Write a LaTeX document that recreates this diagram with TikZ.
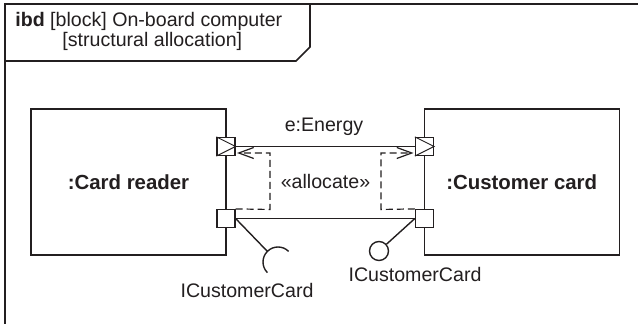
\documentclass[tikz,border=0pt]{standalone}
\usepackage{fontspec}
\setmainfont{Liberation Sans}
\usetikzlibrary{arrows.meta}
\definecolor{ink}{RGB}{35,31,32}
\begin{document}
\begin{tikzpicture}[x=0.5pt,y=-0.5pt,
  every node/.style={font=\fontsize{9.8}{10}\selectfont, text=ink},
  blockbox/.style={draw=ink, line width=0.7pt, minimum width=97.5pt, minimum height=73pt, inner sep=0pt, font=\fontsize{10.2}{12}\selectfont\bfseries},
  portbox/.style={draw=ink, fill=white, line width=0.6pt, minimum size=9pt, inner sep=0pt},
  wire/.style={draw=ink, line width=0.7pt},
  alloc/.style={draw=ink, line width=0.6pt, dash pattern=on 3.5pt off 2pt},
  lbl/.style={anchor=base, inner sep=0pt}]
\useasboundingbox (0,0) rectangle (638,324);
\fill[white] (0,0) rectangle (638,324);
% frame
\draw[ink, line width=1pt] (5,324) -- (5,4) -- (638,4);
\draw[ink, line width=0.8pt] (5,61) -- (296,61) -- (310,47) -- (310,4);
\node[anchor=base west, inner sep=0pt] (h1) at (15,27) {\textbf{ibd} [block] On-board computer};
\node[anchor=base west, inner sep=0pt] (h2) at (62,47) {[structural allocation]};
% blocks
\node[blockbox] (cr) at (128.5,182) {:Card reader};
\node[blockbox] (cc) at (521.75,182) {:Customer card};
% ports
\node[portbox] (p1) at (226,146.5) {};
\node[portbox] (p2) at (226,218.5) {};
\node[portbox] (p3) at (424.5,146.5) {};
\node[portbox] (p4) at (424.5,218.5) {};
\draw[ink, line width=0.5pt] (p1.north west) -- (p1.east) -- (p1.south west);
\draw[ink, line width=0.5pt] (p3.north west) -- (p3.east) -- (p3.south west);
% connectors
\draw[wire] (p1.east) -- (p3.west);
\node[lbl] (en) at (324,132) {e:Energy};
\draw[wire] (p2.east) -- (p4.west);
% allocate
\coordinate (a1) at (270,209.5);
\coordinate (a2) at (270,153);
\coordinate (a3) at (237,153);
\coordinate (b1) at (381,209.5);
\coordinate (b2) at (381,153);
\coordinate (b3) at (413.5,153);
\draw[alloc, -{Straight Barb[length=7.5pt, width=5.5pt]}] (p2.north east) -- (a1) -- (a2) -- (a3);
\draw[alloc, -{Straight Barb[length=7.5pt, width=5.5pt]}] (p4.north west) -- (b1) -- (b2) -- (b3);
\node[lbl] (al) at (325.5,189) {«allocate»};
% interfaces
\coordinate (sk) at (278,262);
\coordinate (skj) at (267.4,251.4);
\draw[wire] (p2.east) -- (skj);
\draw[wire] (sk) ++(135:15) arc[start angle=135, end angle=315, radius=15];
\node[draw=ink, line width=0.7pt, circle, minimum size=9.5pt, inner sep=0pt] (ball) at (379,251) {};
\draw[wire] (p4.west) -- (ball);
\node[lbl] (ic1) at (247,298) {ICustomerCard};
\node[lbl] (ic2) at (415,282) {ICustomerCard};
\end{tikzpicture}
\end{document}
